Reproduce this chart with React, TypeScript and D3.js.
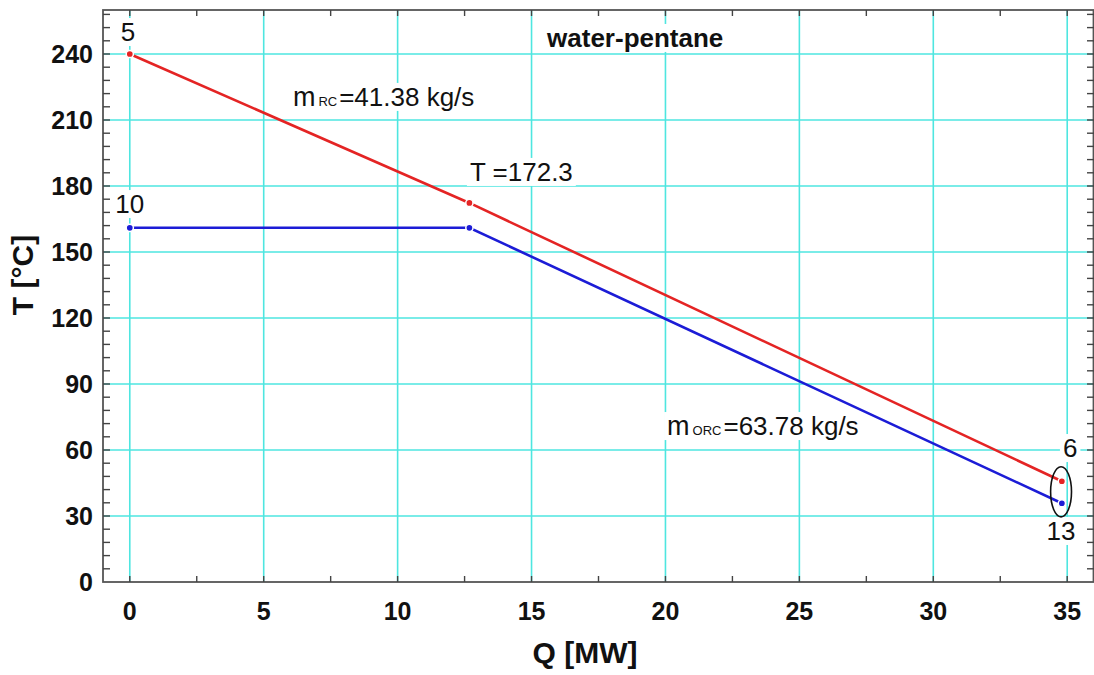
import React, { useEffect, useRef } from "react";
import * as d3 from "d3";

// ---- data ----
const redQ = [0, 12.68, 34.8];
const redT = [240, 172.3, 45.8];
const blueQ = [0, 12.68, 34.8];
const blueT = [161, 161, 35.8];

const xTicks = [0, 5, 10, 15, 20, 25, 30, 35];
const yTicks = [0, 30, 60, 90, 120, 150, 180, 210, 240];

// annotations: [text, sub, rest, q, t, anchor, bold]
const labels: { main: string; sub?: string; rest?: string; q: number; t: number; anchor: string; bold?: boolean }[] = [
  { main: "5", q: -0.07, t: 245.9, anchor: "middle" },
  { main: "10", q: 0, t: 167.7, anchor: "middle" },
  { main: "T =172.3", q: 12.7, t: 182.3, anchor: "start" },
  { main: "m", sub: "RC", rest: "=41.38 kg/s", q: 6.09, t: 216.4, anchor: "start" },
  { main: "m", sub: "ORC", rest: "=63.78 kg/s", q: 20.06, t: 66.8, anchor: "start" },
  { main: "6", q: 35.11, t: 56.8, anchor: "middle" },
  { main: "13", q: 34.77, t: 19.1, anchor: "middle" },
  { main: "water-pentane", q: 15.58, t: 243.2, anchor: "start", bold: true },
];

const ellipseQ = 34.77;
const ellipseT = 41;
const ellipseRQ = 0.39;
const ellipseRT = 11.4;

const W = 1094;
const H = 675;
const FONT = "'Liberation Sans', Arial, Helvetica, sans-serif";
const GRID = "#4ee6e0";
const RED = "#e42424";
const BLUE = "#1c1cd6";

export default function App() {
  const ref = useRef<SVGSVGElement | null>(null);

  useEffect(() => {
    const svg = d3.select(ref.current!);
    svg.selectAll("*").remove();

    const x = d3.scaleLinear().domain([-1, 36]).range([103, 1094]);
    const y = d3.scaleLinear().domain([0, 260]).range([582, 10]);
    const [x0, x1] = x.range();
    const [y0, y1] = y.range();

    svg.append("rect").attr("width", W).attr("height", H).attr("fill", "#fff");

    // grid
    const g = svg.append("g");
    g.selectAll("line.vx")
      .data(xTicks)
      .join("line")
      .attr("x1", (d) => x(d))
      .attr("x2", (d) => x(d))
      .attr("y1", y1)
      .attr("y2", y0)
      .attr("stroke", GRID)
      .attr("stroke-width", 1.6);
    g.selectAll("line.hy")
      .data(yTicks.filter((d) => d > 0))
      .join("line")
      .attr("x1", x0)
      .attr("x2", x1)
      .attr("y1", (d) => y(d))
      .attr("y2", (d) => y(d))
      .attr("stroke", GRID)
      .attr("stroke-width", 1.6);

    // label backgrounds + text
    const lab = svg.append("g");
    labels.forEach((l) => {
      const t = lab
        .append("text")
        .attr("x", x(l.q))
        .attr("y", y(l.t))
        .attr("text-anchor", l.anchor)
        .attr("font-family", FONT)
        .attr("font-size", 26)
        .attr("font-weight", l.bold ? "bold" : "normal")
        .attr("fill", "#111");
      t.append("tspan").text(l.main).attr("font-size", l.sub ? 27 : 26);
      if (l.sub) {
        t.append("tspan").text(l.sub).attr("font-size", 13).attr("dx", 3);
        t.append("tspan").text(l.rest!).attr("dx", 2);
      }
      const bb = (t.node() as SVGTextElement).getBBox();
      lab
        .insert("rect", () => t.node() as any)
        .attr("x", bb.x - 3)
        .attr("y", bb.y + 1)
        .attr("width", bb.width + 6)
        .attr("height", bb.height - 2)
        .attr("fill", "#fff");
    });

    // lines
    const line = d3
      .line<[number, number]>()
      .x((d) => x(d[0]))
      .y((d) => y(d[1]));
    const series = [
      { q: redQ, t: redT, c: RED },
      { q: blueQ, t: blueT, c: BLUE },
    ];
    series.forEach((s) => {
      const pts: [number, number][] = s.q.map((q, i) => [q, s.t[i]]);
      svg
        .append("path")
        .attr("d", line(pts))
        .attr("fill", "none")
        .attr("stroke", s.c)
        .attr("stroke-width", 2.6);
      svg
        .append("g")
        .selectAll("circle")
        .data(pts)
        .join("circle")
        .attr("cx", (d) => x(d[0]))
        .attr("cy", (d) => y(d[1]))
        .attr("r", 3.6)
        .attr("fill", s.c)
        .attr("stroke", "#fff")
        .attr("stroke-width", 1.5);
    });

    // ellipse
    svg
      .append("ellipse")
      .attr("cx", x(ellipseQ))
      .attr("cy", y(ellipseT))
      .attr("rx", x(ellipseQ + ellipseRQ) - x(ellipseQ))
      .attr("ry", y(ellipseT - ellipseRT) - y(ellipseT))
      .attr("fill", "none")
      .attr("stroke", "#111")
      .attr("stroke-width", 1.6);

    // frame
    svg
      .append("rect")
      .attr("x", x0)
      .attr("y", y1)
      .attr("width", x1 - x0 - 0.5)
      .attr("height", y0 - y1)
      .attr("fill", "none")
      .attr("stroke", "#555")
      .attr("stroke-width", 1.8);

    // ticks (inward)
    const xMinor = d3.range(-0, 36.01, 2.5);
    const yMinor = d3.range(6, 260, 6);
    const tk = svg.append("g").attr("stroke", "#444").attr("stroke-width", 1.4);
    xMinor.forEach((d) => {
      tk.append("line").attr("x1", x(d)).attr("x2", x(d)).attr("y1", y0).attr("y2", y0 - 6);
      tk.append("line").attr("x1", x(d)).attr("x2", x(d)).attr("y1", y1).attr("y2", y1 + 6);
    });
    yMinor.forEach((d) => {
      tk.append("line").attr("x1", x0).attr("x2", x0 + 7).attr("y1", y(d)).attr("y2", y(d));
      tk.append("line").attr("x1", x1).attr("x2", x1 - 7).attr("y1", y(d)).attr("y2", y(d));
    });

    // tick labels
    svg
      .append("g")
      .selectAll("text")
      .data(xTicks)
      .join("text")
      .attr("x", (d) => x(d))
      .attr("y", 620)
      .attr("text-anchor", "middle")
      .attr("font-family", FONT)
      .attr("font-weight", "bold")
      .attr("font-size", 25)
      .attr("fill", "#111")
      .text((d) => String(d));
    svg
      .append("g")
      .selectAll("text")
      .data(yTicks)
      .join("text")
      .attr("x", 93)
      .attr("y", (d) => y(d) + 9)
      .attr("text-anchor", "end")
      .attr("font-family", FONT)
      .attr("font-weight", "bold")
      .attr("font-size", 25)
      .attr("fill", "#111")
      .text((d) => String(d));

    // axis titles
    svg
      .append("text")
      .attr("x", 585)
      .attr("y", 663)
      .attr("text-anchor", "middle")
      .attr("font-family", FONT)
      .attr("font-weight", "bold")
      .attr("font-size", 30)
      .attr("fill", "#111")
      .text("Q [MW]");
    svg
      .append("text")
      .attr("transform", "translate(33,275) rotate(-90)")
      .attr("text-anchor", "middle")
      .attr("font-family", FONT)
      .attr("font-weight", "bold")
      .attr("font-size", 30)
      .attr("fill", "#111")
      .text("T [°C]");
  }, []);

  return (
    <svg
      ref={ref}
      width={W}
      height={H}
      style={{ position: "absolute", left: 0, top: 0, display: "block" }}
    />
  );
}
